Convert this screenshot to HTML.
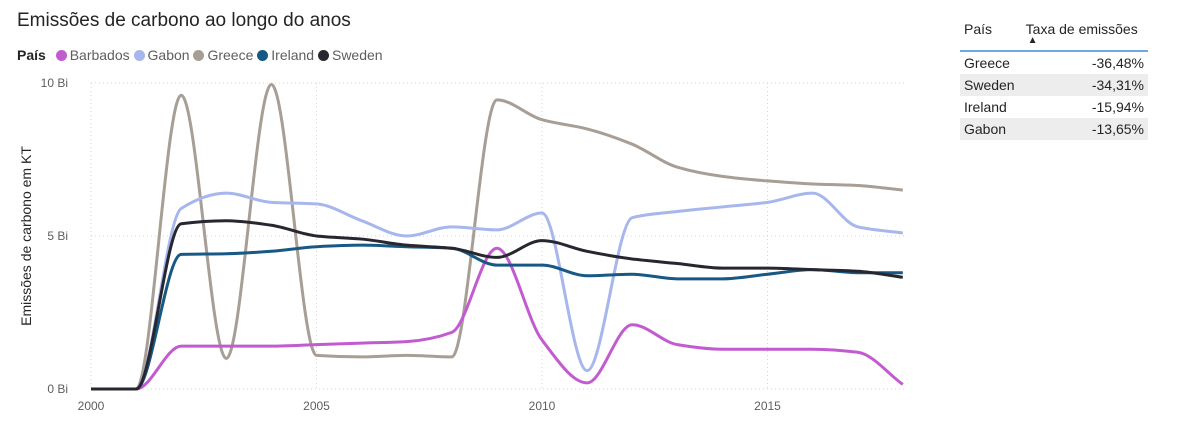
<!DOCTYPE html>
<html><head><meta charset="utf-8"><style>
body{margin:0;width:1182px;height:434px;background:#fff;font-family:"Segoe UI","Liberation Sans","DejaVu Sans",sans-serif;overflow:hidden;position:relative}
.t{position:absolute;color:#252423}
.dot{display:inline-block;width:11px;height:11px;border-radius:50%;margin:0 3px 0 6px;vertical-align:-1px}
table{position:absolute;left:960px;top:18px;width:188px;border-collapse:collapse;font-size:14px;color:#252423}
td,th{padding:0 4px;height:22px;font-weight:normal}
th{height:29px;text-align:left;vertical-align:top;padding-top:3px;border-bottom:2px solid #6fa8e8;font-size:14px}
td.v{text-align:right}
tr.g td{background:#ededed}
</style></head><body>
<div class="t" style="left:17px;top:10px;font-size:19px">Emissões de carbono ao longo do anos</div>
<div class="t" style="left:17px;top:47px;font-size:14px;color:#605e5c;white-space:nowrap">
<b style="color:#252423">País</b>
<span><span class="dot" style="background:#c35bd0"></span>Barbados</span>
<span><span class="dot" style="background:#a7b6ec;margin-left:0"></span>Gabon</span>
<span><span class="dot" style="background:#a79e95;margin-left:0"></span>Greece</span>
<span><span class="dot" style="background:#175984;margin-left:0"></span>Ireland</span>
<span><span class="dot" style="background:#27272f;margin-left:0"></span>Sweden</span>
</div>
<svg id="c" width="950" height="434" style="position:absolute;left:0;top:0"></svg>
<table>
<tr><th>País</th><th style="position:relative">Taxa de emissões<span style="position:absolute;left:6px;top:17px;font-size:10px">▲</span></th></tr>
<tr><td>Greece</td><td class="v">-36,48%</td></tr>
<tr class="g"><td>Sweden</td><td class="v">-34,31%</td></tr>
<tr><td>Ireland</td><td class="v">-15,94%</td></tr>
<tr class="g"><td>Gabon</td><td class="v">-13,65%</td></tr>
</table>
<script>
const years=[2000,2001,2002,2003,2004,2005,2006,2007,2008,2009,2010,2011,2012,2013,2014,2015,2016,2017,2018];
const greece=[0,0,9.6,1.0,9.95,1.1,1.05,1.1,1.05,9.45,8.8,8.5,8.0,7.25,6.95,6.8,6.7,6.65,6.5];
const gabon=[0,0,5.9,6.4,6.1,6.05,5.5,5.0,5.3,5.2,5.75,0.6,5.6,5.8,5.95,6.1,6.4,5.3,5.1];
const ireland=[0,0,4.4,4.42,4.5,4.65,4.7,4.65,4.6,4.05,4.05,3.7,3.75,3.6,3.6,3.75,3.9,3.8,3.8];
const sweden=[0,0,5.4,5.5,5.35,5.0,4.9,4.7,4.6,4.3,4.85,4.5,4.25,4.1,3.95,3.95,3.9,3.85,3.65];
const barbados=[0,0,1.4,1.4,1.4,1.45,1.5,1.55,1.85,4.6,1.6,0.2,2.1,1.45,1.3,1.3,1.3,1.2,0.15];
const yTicks=[0,5,10];const yLabels=["0 Bi","5 Bi","10 Bi"];
const xTicks=[2000,2005,2010,2015];
const series=[["greece",greece,"#a79e95"],["gabon",gabon,"#a7b6ec"],["barbados",barbados,"#c35bd0"],["ireland",ireland,"#175984"],["sweden",sweden,"#27272f"]];
const X=y=>91+(y-2000)*45.1, Y=v=>389-v*30.6;
const svg=document.getElementById('c'),NS='http://www.w3.org/2000/svg';
function el(t,a){const e=document.createElementNS(NS,t);for(const k in a)e.setAttribute(k,a[k]);svg.appendChild(e);return e;}
yTicks.forEach((v,i)=>{
 const l=el('line',{x1:91,x2:905,y1:Y(v),y2:Y(v),stroke:'#d6d6d6','stroke-dasharray':'1,3'});
 
 
 const t=el('text',{x:68,y:Y(v)+4,'font-size':12,fill:'#605e5c','text-anchor':'end'});t.textContent=yLabels[i];
 
 
});
xTicks.forEach(v=>{
 const l=el('line',{x1:X(v),x2:X(v),y1:83,y2:389,stroke:'#d6d6d6','stroke-dasharray':'1,3'});
 
 
 const t=el('text',{x:X(v),y:410,'font-size':12,fill:'#605e5c','text-anchor':'middle'});t.textContent=v;
 
 
});
const yt=el('text',{transform:'translate(31,236) rotate(-90)','font-size':14,fill:'#252423','text-anchor':'middle'});yt.textContent='Emissões de carbono em KT';


function monotone(p){
 const n=p.length,dx=[],s=[],m=[];
 for(let i=0;i<n-1;i++){dx[i]=p[i+1][0]-p[i][0];s[i]=(p[i+1][1]-p[i][1])/dx[i];}
 m[0]=s[0];m[n-1]=s[n-2];
 for(let i=1;i<n-1;i++){m[i]=(s[i-1]*s[i]<=0)?0:(3*(dx[i-1]+dx[i]))/((2*dx[i]+dx[i-1])/s[i-1]+(dx[i]+2*dx[i-1])/s[i]);}
 let d='M'+p[0][0]+','+p[0][1];
 for(let i=0;i<n-1;i++){const h=dx[i]/3;
  d+=` C${p[i][0]+h},${p[i][1]+m[i]*h} ${p[i+1][0]-h},${p[i+1][1]-m[i+1]*h} ${p[i+1][0]},${p[i+1][1]}`;}
 return d;
}
series.forEach(([n,vals,col])=>{
 const p=years.map((y,i)=>[X(y),Y(vals[i])]);
 const e=el('path',{d:monotone(p),fill:'none',stroke:col,'stroke-width':3,'stroke-linejoin':'round'});
 
 
});
</script>
</body></html>
